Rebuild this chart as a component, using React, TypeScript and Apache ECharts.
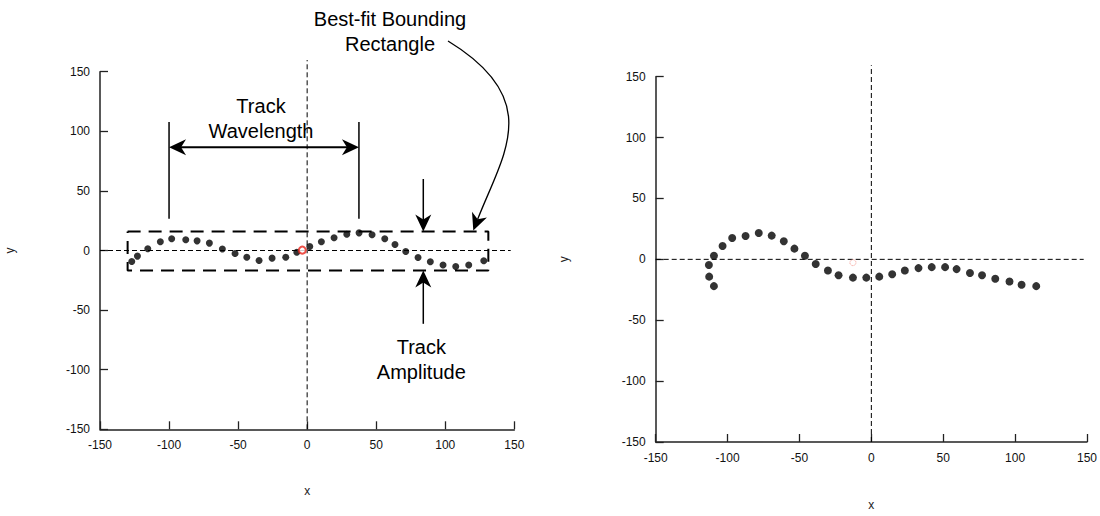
import React, { useEffect, useRef } from "react";
import * as echarts from "echarts";

// ---------- data ----------
const axisMin = -150;
const axisMax = 150;
const axisStep = 50;

// Left panel: track points after alignment
const leftTrackX = [-127.0, -122.9, -115.4, -106.3, -98.1, -87.9, -79.7, -70.8, -61.4, -52.2, -43.7, -34.8, -25.4, -15.5, -7.5, 1.9, 10.3, 19.5, 28.7, 37.6, 47.0, 56.2, 63.6, 71.4, 80.3, 89.2, 98.4, 107.6, 117.0, 127.9];
const leftTrackY = [-9.2, -4.7, 1.4, 7.3, 9.8, 9.0, 8.1, 6.2, 1.2, -2.5, -5.6, -8.4, -6.4, -5.6, -1.4, 3.4, 7.3, 10.7, 13.7, 14.8, 13.2, 9.8, 5.0, -0.8, -5.9, -9.5, -12.2, -13.4, -12.2, -8.6];
const leftCentroid = [-3.5, 0.3];

// Right panel: raw track points
const rightTrackX = [-113.0, -112.8, -109.5, -109.5, -103.5, -96.8, -87.5, -78.3, -69.3, -60.9, -53.5, -46.2, -38.7, -30.2, -22.8, -12.8, -3.5, 5.5, 14.5, 23.3, 32.8, 42.0, 51.3, 59.3, 68.6, 77.0, 86.2, 96.1, 104.5, 114.7];
const rightTrackY = [-4.6, -14.2, -22.0, 2.9, 10.9, 17.6, 19.2, 21.7, 19.5, 14.9, 8.8, 2.9, -3.8, -9.1, -13.1, -15.0, -15.0, -14.2, -12.3, -9.1, -7.2, -6.4, -6.4, -8.0, -11.2, -13.1, -16.0, -18.2, -20.9, -22.0];
const rightCentroid = [-12.8, -2.7];

// Bounding rectangle and annotation anchors (data units, left panel)
const rectX = [-130, 131.2];
const rectY = [-16.8, 15.9];
const wavelengthX = [-100, 37.5];
const wavelengthY = [26.6, 107.7];
const wavelengthArrowY = 86.7;
const amplitudeX = 84.1;
const amplitudeTop = 60;
const amplitudeBottom = -61.5;

// Zero reference lines (extents)
const leftZeroH = [[-150, 0], [147.4, 0]];
const leftZeroV = [[0, -150], [0, 159.8]];
const rightZeroH = [[-150, 0], [147.7, 0]];
const rightZeroV = [[0, -150], [0, 159.4]];

const annotationTexts = {
  wavelength: ["Track", "Wavelength"],
  amplitude: ["Track", "Amplitude"],
  rect: ["Best-fit Bounding", "Rectangle"],
};

const FONT = "'Liberation Sans', Arial, Helvetica, sans-serif";

function zip(xs: number[], ys: number[]) {
  return xs.map((x, i) => [x, ys[i]]);
}

function axisCommon(name: string, nameGap: number) {
  return {
    type: "value",
    min: axisMin,
    max: axisMax,
    interval: axisStep,
    name,
    nameLocation: "middle",
    nameGap,
    nameTextStyle: { color: "#222", fontSize: 12, fontFamily: FONT },
    axisLine: { show: true, onZero: false, lineStyle: { color: "#222", width: 1.5 } },
    axisTick: { show: true, inside: true, length: 8, lineStyle: { color: "#222", width: 1.3 } },
    axisLabel: { color: "#111", fontSize: 12, fontFamily: FONT, margin: 10 },
    splitLine: { show: false },
  };
}

function arrowHead(tx: number, ty: number, dx: number, dy: number, L = 17, W = 8, N = 5) {
  const len = Math.hypot(dx, dy);
  const ux = dx / len;
  const uy = dy / len;
  const nx = -uy;
  const ny = ux;
  return {
    type: "polygon",
    shape: {
      points: [
        [tx, ty],
        [tx - ux * L + nx * W, ty - uy * L + ny * W],
        [tx - ux * (L - N), ty - uy * (L - N)],
        [tx - ux * L - nx * W, ty - uy * L - ny * W],
      ],
    },
    style: { fill: "#000" },
    silent: true,
  };
}

function lineEl(x1: number, y1: number, x2: number, y2: number, w = 1.5) {
  return {
    type: "line",
    shape: { x1, y1, x2, y2 },
    style: { stroke: "#000", lineWidth: w },
    silent: true,
  };
}

function textEl(x: number, y: number, text: string) {
  return {
    type: "text",
    x,
    y,
    style: {
      text,
      fill: "#000",
      fontSize: 20,
      fontFamily: FONT,
      align: "center",
      verticalAlign: "middle",
    },
    silent: true,
  };
}

export default function App() {
  const ref = useRef<HTMLDivElement>(null);

  useEffect(() => {
    if (!ref.current) return;
    const chart = echarts.init(ref.current, undefined, { renderer: "svg" });

    const dashedZero = { color: "#000", width: 1, type: [5, 3] };

    chart.setOption({
      animation: false,
      backgroundColor: "#fff",
      grid: [
        { left: 100, top: 71.7, width: 414.3, height: 357.6 },
        { left: 655.7, top: 76.7, width: 432.2, height: 374 },
      ],
      xAxis: [
        { ...axisCommon("x", 56), gridIndex: 0 },
        { ...axisCommon("x", 57), gridIndex: 1 },
      ],
      yAxis: [
        { ...axisCommon("y", 84), gridIndex: 0 },
        { ...axisCommon("y", 86), gridIndex: 1 },
      ],
      series: [
        {
          type: "line", xAxisIndex: 0, yAxisIndex: 0, data: leftZeroH, symbol: "none",
          lineStyle: dashedZero, clip: false, silent: true, z: 1,
        },
        {
          type: "line", xAxisIndex: 0, yAxisIndex: 0, data: leftZeroV, symbol: "none",
          lineStyle: dashedZero, clip: false, silent: true, z: 1,
        },
        {
          type: "line", xAxisIndex: 1, yAxisIndex: 1, data: rightZeroH, symbol: "none",
          lineStyle: dashedZero, clip: false, silent: true, z: 1,
        },
        {
          type: "line", xAxisIndex: 1, yAxisIndex: 1, data: rightZeroV, symbol: "none",
          lineStyle: dashedZero, clip: false, silent: true, z: 1,
        },
        {
          type: "line", xAxisIndex: 0, yAxisIndex: 0, symbol: "none", clip: false, silent: true, z: 2,
          data: [
            [rectX[0], rectY[1]],
            [rectX[1], rectY[1]],
            [rectX[1], rectY[0]],
            [rectX[0], rectY[0]],
            [rectX[0], rectY[1]],
          ],
          lineStyle: { color: "#000", width: 2, type: [13, 8] },
        },
        {
          type: "scatter", xAxisIndex: 0, yAxisIndex: 0, data: zip(leftTrackX, leftTrackY),
          symbol: "circle", symbolSize: 7, itemStyle: { color: "#000" }, z: 3,
        },
        {
          type: "scatter", xAxisIndex: 0, yAxisIndex: 0, data: [leftCentroid],
          symbol: "circle", symbolSize: 7,
          itemStyle: { color: "#fff", borderColor: "#e8251c", borderWidth: 2 }, z: 4,
        },
        {
          type: "scatter", xAxisIndex: 1, yAxisIndex: 1, data: zip(rightTrackX, rightTrackY),
          symbol: "circle", symbolSize: 8,
          itemStyle: { color: "#000" }, z: 3,
        },
        {
          type: "scatter", xAxisIndex: 1, yAxisIndex: 1, data: [rightCentroid],
          symbol: "circle", symbolSize: 6,
          itemStyle: { color: "transparent", borderColor: "#f07a6e", borderWidth: 1, borderType: "dotted" }, z: 4,
        },
      ],
    });

    const p = (x: number, y: number) => chart.convertToPixel({ gridIndex: 0 }, [x, y]) as number[];

    // Wavelength annotation
    const wl0 = p(wavelengthX[0], wavelengthY[0]);
    const wl1 = p(wavelengthX[0], wavelengthY[1]);
    const wr0 = p(wavelengthX[1], wavelengthY[0]);
    const wr1 = p(wavelengthX[1], wavelengthY[1]);
    const wa = p(wavelengthX[0], wavelengthArrowY);
    const wb = p(wavelengthX[1], wavelengthArrowY);
    const wMid = (wa[0] + wb[0]) / 2 - 3;

    // Amplitude annotation
    const aTop0 = p(amplitudeX, amplitudeTop);
    const aTopTip = p(amplitudeX, rectY[1]);
    const aBot0 = p(amplitudeX, amplitudeBottom);
    const aBotTip = p(amplitudeX, rectY[0]);

    // Curved arrow to the rectangle
    const cTip = [473.3, 230.5];
    const cDir = [-0.363, 0.932];
    const cEnd = [cTip[0] - cDir[0] * 12, cTip[1] - cDir[1] * 12];

    chart.setOption({
      graphic: [
        lineEl(wl0[0], wl0[1], wl1[0], wl1[1]),
        lineEl(wr0[0], wr0[1], wr1[0], wr1[1]),
        lineEl(wa[0] + 10, wa[1], wb[0] - 10, wb[1], 2),
        arrowHead(wa[0], wa[1], -1, 0),
        arrowHead(wb[0], wb[1], 1, 0),
        textEl(wMid, wa[1] - 41, annotationTexts.wavelength[0]),
        textEl(wMid, wa[1] - 16.5, annotationTexts.wavelength[1]),

        lineEl(aTop0[0], aTop0[1], aTopTip[0], aTopTip[1] - 10),
        arrowHead(aTopTip[0], aTopTip[1], 0, 1),
        lineEl(aBot0[0], aBot0[1], aBotTip[0], aBotTip[1] + 10),
        arrowHead(aBotTip[0], aBotTip[1], 0, -1),
        textEl(aTop0[0] - 2, aBot0[1] + 23, annotationTexts.amplitude[0]),
        textEl(aTop0[0] - 2, aBot0[1] + 48, annotationTexts.amplitude[1]),

        {
          type: "bezierCurve",
          shape: {
            x1: 448, y1: 41,
            cpx1: 545, cpy1: 100,
            cpx2: cEnd[0] - cDir[0] * 70, cpy2: cEnd[1] - cDir[1] * 70,
            x2: cEnd[0], y2: cEnd[1],
          },
          style: { stroke: "#000", lineWidth: 1.3, fill: null },
          silent: true,
        },
        arrowHead(cTip[0], cTip[1], cDir[0], cDir[1]),
        textEl(390, 19, annotationTexts.rect[0]),
        textEl(390, 44, annotationTexts.rect[1]),
      ],
    });

    return () => chart.dispose();
  }, []);

  return (
    <div
      ref={ref}
      style={{ position: "fixed", left: 0, top: 0, width: 1100, height: 516, background: "#fff" }}
    />
  );
}
